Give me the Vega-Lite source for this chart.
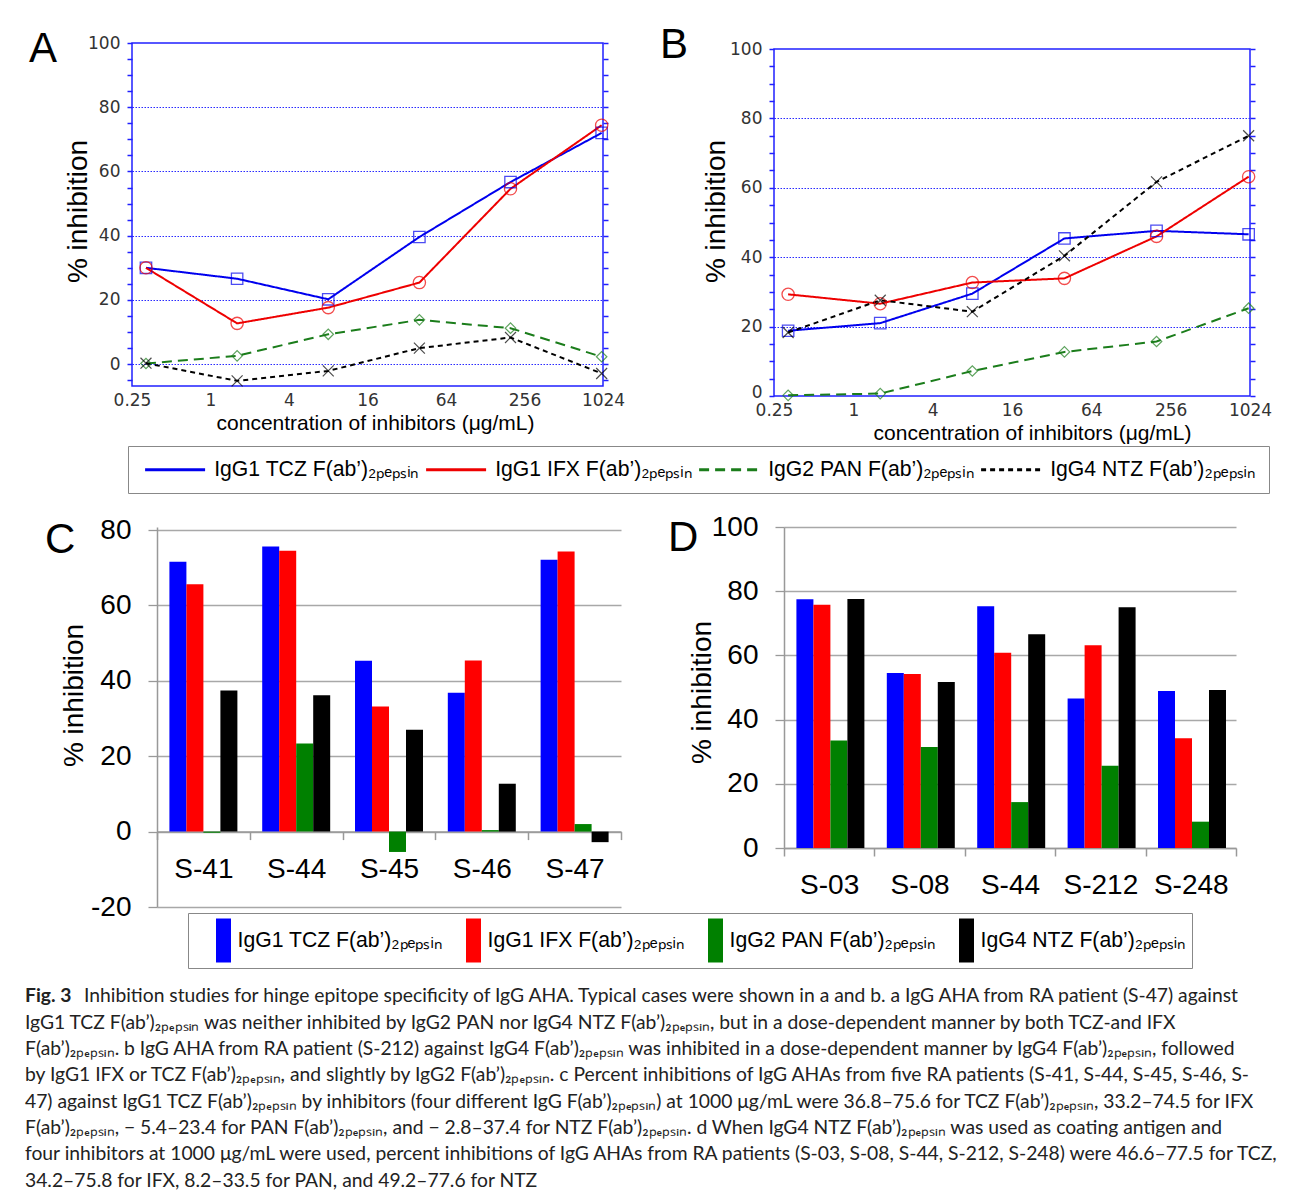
{
  "$schema": "https://vega.github.io/schema/vega-lite/v6.json",
  "padding": {"left": 0, "top": 23, "right": 0, "bottom": 0},
  "background": "white",
  "config": {
    "view": {"stroke": null},
    "font": "Liberation Sans",
    "axis": {"labelFont": "Liberation Sans", "titleFont": "Liberation Sans", "titleFontWeight": "normal", "titleColor": "black", "labelColor": "black"},
    "title": {"font": "Liberation Sans", "fontWeight": "normal", "fontSize": 42, "anchor": "start", "frame": "group", "offset": 0, "baseline": "alphabetic", "color": "black"}
  },
  "datasets": {
    "lineA": [
      {"series": "TCZ", "conc": 0.32, "pct": 30.0}, {"series": "TCZ", "conc": 1.6, "pct": 26.6}, {"series": "TCZ", "conc": 8, "pct": 20.2}, {"series": "TCZ", "conc": 40, "pct": 39.6}, {"series": "TCZ", "conc": 200, "pct": 56.7}, {"series": "TCZ", "conc": 1000, "pct": 72.0},
      {"series": "IFX", "conc": 0.32, "pct": 30.0}, {"series": "IFX", "conc": 1.6, "pct": 12.7}, {"series": "IFX", "conc": 8, "pct": 17.6}, {"series": "IFX", "conc": 40, "pct": 25.4}, {"series": "IFX", "conc": 200, "pct": 54.6}, {"series": "IFX", "conc": 1000, "pct": 74.4},
      {"series": "PAN", "conc": 0.32, "pct": 0.2}, {"series": "PAN", "conc": 1.6, "pct": 2.6}, {"series": "PAN", "conc": 8, "pct": 9.3}, {"series": "PAN", "conc": 40, "pct": 13.8}, {"series": "PAN", "conc": 200, "pct": 11.2}, {"series": "PAN", "conc": 1000, "pct": 2.3},
      {"series": "NTZ", "conc": 0.32, "pct": 0.3}, {"series": "NTZ", "conc": 1.6, "pct": -5.2}, {"series": "NTZ", "conc": 8, "pct": -2.1}, {"series": "NTZ", "conc": 40, "pct": 5.0}, {"series": "NTZ", "conc": 200, "pct": 8.3}, {"series": "NTZ", "conc": 1000, "pct": -2.9}
    ],
    "lineB": [
      {"series": "TCZ", "conc": 0.32, "pct": 18.8}, {"series": "TCZ", "conc": 1.6, "pct": 21.0}, {"series": "TCZ", "conc": 8, "pct": 29.5}, {"series": "TCZ", "conc": 40, "pct": 45.4}, {"series": "TCZ", "conc": 200, "pct": 47.6}, {"series": "TCZ", "conc": 1000, "pct": 46.6},
      {"series": "IFX", "conc": 0.32, "pct": 29.3}, {"series": "IFX", "conc": 1.6, "pct": 26.6}, {"series": "IFX", "conc": 8, "pct": 32.7}, {"series": "IFX", "conc": 40, "pct": 33.9}, {"series": "IFX", "conc": 200, "pct": 46.0}, {"series": "IFX", "conc": 1000, "pct": 63.2},
      {"series": "PAN", "conc": 0.32, "pct": 0.2}, {"series": "PAN", "conc": 1.6, "pct": 0.7}, {"series": "PAN", "conc": 8, "pct": 7.2}, {"series": "PAN", "conc": 40, "pct": 12.7}, {"series": "PAN", "conc": 200, "pct": 15.7}, {"series": "PAN", "conc": 1000, "pct": 25.3},
      {"series": "NTZ", "conc": 0.32, "pct": 18.3}, {"series": "NTZ", "conc": 1.6, "pct": 27.6}, {"series": "NTZ", "conc": 8, "pct": 24.3}, {"series": "NTZ", "conc": 40, "pct": 40.4}, {"series": "NTZ", "conc": 200, "pct": 61.7}, {"series": "NTZ", "conc": 1000, "pct": 75.0}
    ],
    "barC": [
      {"sample": "S-41", "inhibitor": "TCZ", "pct": 71.6}, {"sample": "S-41", "inhibitor": "IFX", "pct": 65.6}, {"sample": "S-41", "inhibitor": "PAN", "pct": -0.3}, {"sample": "S-41", "inhibitor": "NTZ", "pct": 37.4},
      {"sample": "S-44", "inhibitor": "TCZ", "pct": 75.6}, {"sample": "S-44", "inhibitor": "IFX", "pct": 74.5}, {"sample": "S-44", "inhibitor": "PAN", "pct": 23.4}, {"sample": "S-44", "inhibitor": "NTZ", "pct": 36.2},
      {"sample": "S-45", "inhibitor": "TCZ", "pct": 45.3}, {"sample": "S-45", "inhibitor": "IFX", "pct": 33.2}, {"sample": "S-45", "inhibitor": "PAN", "pct": -5.4}, {"sample": "S-45", "inhibitor": "NTZ", "pct": 27.0},
      {"sample": "S-46", "inhibitor": "TCZ", "pct": 36.8}, {"sample": "S-46", "inhibitor": "IFX", "pct": 45.4}, {"sample": "S-46", "inhibitor": "PAN", "pct": 0.4}, {"sample": "S-46", "inhibitor": "NTZ", "pct": 12.7},
      {"sample": "S-47", "inhibitor": "TCZ", "pct": 72.1}, {"sample": "S-47", "inhibitor": "IFX", "pct": 74.3}, {"sample": "S-47", "inhibitor": "PAN", "pct": 2.0}, {"sample": "S-47", "inhibitor": "NTZ", "pct": -2.8}
    ],
    "barD": [
      {"sample": "S-03", "inhibitor": "TCZ", "pct": 77.5}, {"sample": "S-03", "inhibitor": "IFX", "pct": 75.8}, {"sample": "S-03", "inhibitor": "PAN", "pct": 33.5}, {"sample": "S-03", "inhibitor": "NTZ", "pct": 77.6},
      {"sample": "S-08", "inhibitor": "TCZ", "pct": 54.5}, {"sample": "S-08", "inhibitor": "IFX", "pct": 54.2}, {"sample": "S-08", "inhibitor": "PAN", "pct": 31.5}, {"sample": "S-08", "inhibitor": "NTZ", "pct": 51.7},
      {"sample": "S-44", "inhibitor": "TCZ", "pct": 75.3}, {"sample": "S-44", "inhibitor": "IFX", "pct": 60.8}, {"sample": "S-44", "inhibitor": "PAN", "pct": 14.3}, {"sample": "S-44", "inhibitor": "NTZ", "pct": 66.6},
      {"sample": "S-212", "inhibitor": "TCZ", "pct": 46.6}, {"sample": "S-212", "inhibitor": "IFX", "pct": 63.2}, {"sample": "S-212", "inhibitor": "PAN", "pct": 25.6}, {"sample": "S-212", "inhibitor": "NTZ", "pct": 75.0},
      {"sample": "S-248", "inhibitor": "TCZ", "pct": 48.9}, {"sample": "S-248", "inhibitor": "IFX", "pct": 34.2}, {"sample": "S-248", "inhibitor": "PAN", "pct": 8.2}, {"sample": "S-248", "inhibitor": "NTZ", "pct": 49.2}
    ],
    "caption": [
      {"line": 1, "part": "bold", "text": "Fig. 3"},
      {"line": 1, "part": "rest", "text": "Inhibition studies for hinge epitope specificity of IgG AHA. Typical cases were shown in a and b. a IgG AHA from RA patient (S-47) against"},
      {"line": 2, "part": "body", "text": "IgG1 TCZ F(ab’)₂ₚₑₚₛᵢₙ was neither inhibited by IgG2 PAN nor IgG4 NTZ F(ab’)₂ₚₑₚₛᵢₙ, but in a dose-dependent manner by both TCZ-and IFX"},
      {"line": 3, "part": "body", "text": "F(ab’)₂ₚₑₚₛᵢₙ. b IgG AHA from RA patient (S-212) against IgG4 F(ab’)₂ₚₑₚₛᵢₙ was inhibited in a dose-dependent manner by IgG4 F(ab’)₂ₚₑₚₛᵢₙ, followed"},
      {"line": 4, "part": "body", "text": "by IgG1 IFX or TCZ F(ab’)₂ₚₑₚₛᵢₙ, and slightly by IgG2 F(ab’)₂ₚₑₚₛᵢₙ. c Percent inhibitions of IgG AHAs from five RA patients (S-41, S-44, S-45, S-46, S-"},
      {"line": 5, "part": "body", "text": "47) against IgG1 TCZ F(ab’)₂ₚₑₚₛᵢₙ by inhibitors (four different IgG F(ab’)₂ₚₑₚₛᵢₙ) at 1000 μg/mL were 36.8–75.6 for TCZ F(ab’)₂ₚₑₚₛᵢₙ, 33.2–74.5 for IFX"},
      {"line": 6, "part": "body", "text": "F(ab’)₂ₚₑₚₛᵢₙ, − 5.4–23.4 for PAN F(ab’)₂ₚₑₚₛᵢₙ, and − 2.8–37.4 for NTZ F(ab’)₂ₚₑₚₛᵢₙ. d When IgG4 NTZ F(ab’)₂ₚₑₚₛᵢₙ was used as coating antigen and"},
      {"line": 7, "part": "body", "text": "four inhibitors at 1000 μg/mL were used, percent inhibitions of IgG AHAs from RA patients (S-03, S-08, S-44, S-212, S-248) were 46.6–77.5 for TCZ,"},
      {"line": 8, "part": "body", "text": "34.2–75.8 for IFX, 8.2–33.5 for PAN, and 49.2–77.6 for NTZ"}
    ]
  },
  "resolve": {"scale": {"color": "independent", "strokeDash": "independent"}},
  "spacing": 18,
  "vconcat": [
    {
      "bounds": "flush",
      "spacing": 0,
      "resolve": {"scale": {"color": "independent", "strokeDash": "independent"}},
      "hconcat": [
        {"width": 132, "height": 1, "data": {"values": [{}]}, "mark": {"type": "point", "opacity": 0}},
        {
          "width": 471, "height": 343,
          "view": {"stroke": "#2020ff", "strokeWidth": 1.5},
          "title": {"text": "A", "dx": -103, "dy": 41},
          "data": {"name": "lineA"},
          "resolve": {"scale": {"y": "independent"}},
          "layer": [
            {
              "mark": {"type": "line", "strokeWidth": 2},
              "encoding": {
                "x": {"field": "conc", "type": "quantitative", "scale": {"type": "log", "base": 2, "domain": [0.25, 1024], "nice": false},
                      "axis": {"values": [0.25, 1, 4, 16, 64, 256, 1024], "format": "~g", "ticks": false, "domain": false, "grid": false, "labelFont": "DejaVu Sans", "labelFontSize": 17, "labelColor": "#333", "labelPadding": 6, "labelFlush": false, "labelOverlap": false, "title": "concentration of inhibitors (μg/mL)", "titleFontSize": 21, "titlePadding": 4, "titleX": 243}},
                "y": {"field": "pct", "type": "quantitative", "scale": {"domain": [-6.8, 100], "nice": false, "zero": false},
                      "axis": {"orient": "left", "values": [-5, 0, 5, 10, 15, 20, 25, 30, 35, 40, 45, 50, 55, 60, 65, 70, 75, 80, 85, 90, 95, 100], "labelExpr": "datum.value % 20 === 0 ? datum.label : ''", "domain": false, "tickSize": 5, "tickColor": "#2020ff", "tickWidth": 1.5, "grid": true, "gridColor": "#2a2aff", "gridDash": [1.5, 1.5], "gridWidth": 1, "gridOpacity": {"condition": {"test": "datum.value % 20 === 0 && datum.value < 100", "value": 1}, "value": 0}, "labelFont": "DejaVu Sans", "labelFontSize": 17, "labelColor": "#333", "labelPadding": 7, "title": "% inhibition", "titleFontSize": 28, "titleX": -54, "titleY": 168, "titleBaseline": "middle"}},
                "color": {"field": "series", "type": "nominal", "scale": {"domain": ["TCZ", "IFX", "PAN", "NTZ"], "range": ["#0000ee", "#ee0000", "#1b7d1b", "#000000"]},
                          "legend": {"orient": "none", "legendX": -4, "legendY": 403, "direction": "horizontal", "title": null, "symbolType": "M-1.3,0H10.7", "symbolSize": 100, "symbolStrokeWidth": 3, "labelOffset": 52, "labelFontSize": 21.2, "labelFont": "Liberation Sans", "labelColor": "black", "labelLimit": 500, "columnPadding": 0, "padding": 13, "strokeColor": "#888", "fillColor": "white", "labelExpr": "{'TCZ': 'IgG1 TCZ F(ab’)₂ₚₑₚₛᵢₙ', 'IFX': 'IgG1 IFX F(ab’)₂ₚₑₚₛᵢₙ', 'PAN': 'IgG2 PAN F(ab’)₂ₚₑₚₛᵢₙ', 'NTZ': 'IgG4 NTZ F(ab’)₂ₚₑₚₛᵢₙ'}[datum.value]"}},
                "strokeDash": {"field": "series", "type": "nominal", "scale": {"domain": ["TCZ", "IFX", "PAN", "NTZ"], "range": [[1, 0], [1, 0], [10, 6], [5, 4]]},
                          "legend": {"orient": "none", "legendX": -4, "legendY": 403, "direction": "horizontal", "title": null, "symbolType": "M-1.3,0H10.7", "symbolSize": 100, "symbolStrokeWidth": 3, "labelOffset": 52, "labelFontSize": 21.2, "labelFont": "Liberation Sans", "labelColor": "black", "labelLimit": 500, "columnPadding": 0, "padding": 13, "strokeColor": "#888", "fillColor": "white", "labelExpr": "{'TCZ': 'IgG1 TCZ F(ab’)₂ₚₑₚₛᵢₙ', 'IFX': 'IgG1 IFX F(ab’)₂ₚₑₚₛᵢₙ', 'PAN': 'IgG2 PAN F(ab’)₂ₚₑₚₛᵢₙ', 'NTZ': 'IgG4 NTZ F(ab’)₂ₚₑₚₛᵢₙ'}[datum.value]"}}
              }
            },
            {
              "transform": [{"filter": "datum.series === 'TCZ'"}],
              "mark": {"type": "point", "filled": false, "size": 130, "strokeWidth": 1.3, "shape": "square", "color": "#0000ee"},
              "encoding": {
                "x": {"field": "conc", "type": "quantitative"},
                "y": {"field": "pct", "type": "quantitative", "scale": {"domain": [-6.8, 100], "nice": false, "zero": false},
                      "axis": {"orient": "right", "values": [-5, 0, 5, 10, 15, 20, 25, 30, 35, 40, 45, 50, 55, 60, 65, 70, 75, 80, 85, 90, 95, 100], "labels": false, "domain": false, "tickSize": 5, "tickColor": "#2020ff", "tickWidth": 1.5, "grid": false, "title": null}}
              }
            },
            {
              "transform": [{"filter": "datum.series === 'IFX'"}],
              "mark": {"type": "point", "filled": false, "size": 150, "strokeWidth": 1.3, "shape": "circle", "color": "#ee0000"},
              "encoding": {
                "x": {"field": "conc", "type": "quantitative"},
                "y": {"field": "pct", "type": "quantitative", "scale": {"domain": [-6.8, 100], "nice": false, "zero": false}, "axis": null}
              }
            },
            {
              "transform": [{"filter": "datum.series === 'PAN'"}],
              "mark": {"type": "point", "filled": false, "size": 110, "strokeWidth": 1.2, "shape": "diamond", "color": "#1b7d1b"},
              "encoding": {
                "x": {"field": "conc", "type": "quantitative"},
                "y": {"field": "pct", "type": "quantitative", "scale": {"domain": [-6.8, 100], "nice": false, "zero": false}, "axis": null}
              }
            },
            {
              "transform": [{"filter": "datum.series === 'NTZ'"}],
              "mark": {"type": "point", "filled": false, "size": 120, "strokeWidth": 1.2, "shape": "M-1,-1L1,1M-1,1L1,-1", "color": "#000000"},
              "encoding": {
                "x": {"field": "conc", "type": "quantitative"},
                "y": {"field": "pct", "type": "quantitative", "scale": {"domain": [-6.8, 100], "nice": false, "zero": false}, "axis": null}
              }
            }
          ]
        },
        {"width": 171, "height": 1, "data": {"values": [{}]}, "mark": {"type": "point", "opacity": 0}},
        {
          "bounds": "flush",
          "spacing": 0,
          "resolve": {"scale": {"color": "independent", "strokeDash": "independent"}},
          "vconcat": [
            {"width": 1, "height": 6, "data": {"values": [{}]}, "mark": {"type": "point", "opacity": 0}},
            {
              "width": 476, "height": 347,
              "view": {"stroke": "#2020ff", "strokeWidth": 1.5},
              "title": {"text": "B", "dx": -114, "dy": 31},
              "data": {"name": "lineB"},
              "resolve": {"scale": {"y": "independent"}},
              "layer": [
                {
                  "mark": {"type": "line", "strokeWidth": 2},
                  "encoding": {
                    "x": {"field": "conc", "type": "quantitative", "scale": {"type": "log", "base": 2, "domain": [0.25, 1024], "nice": false},
                          "axis": {"values": [0.25, 1, 4, 16, 64, 256, 1024], "format": "~g", "ticks": false, "domain": false, "grid": false, "labelFont": "DejaVu Sans", "labelFontSize": 17, "labelColor": "#333", "labelPadding": 6, "labelFlush": false, "labelOverlap": false, "title": "concentration of inhibitors (μg/mL)", "titleFontSize": 21, "titlePadding": 4, "titleX": 258}},
                    "y": {"field": "pct", "type": "quantitative", "scale": {"domain": [0, 100], "nice": false},
                          "axis": {"orient": "left", "values": [0, 5, 10, 15, 20, 25, 30, 35, 40, 45, 50, 55, 60, 65, 70, 75, 80, 85, 90, 95, 100], "labelExpr": "datum.value % 20 === 0 ? datum.label : ''", "labelOffset": {"condition": {"test": "datum.value === 0", "value": -4}, "value": 0}, "domain": false, "tickSize": 5, "tickColor": "#2020ff", "tickWidth": 1.5, "grid": true, "gridColor": "#2a2aff", "gridDash": [1.5, 1.5], "gridWidth": 1, "gridOpacity": {"condition": {"test": "datum.value % 20 === 0 && datum.value > 0 && datum.value < 100", "value": 1}, "value": 0}, "labelFont": "DejaVu Sans", "labelFontSize": 17, "labelColor": "#333", "labelPadding": 7, "title": "% inhibition", "titleFontSize": 28, "titleX": -58, "titleY": 162, "titleBaseline": "middle"}},
                    "color": {"field": "series", "type": "nominal", "scale": {"domain": ["TCZ", "IFX", "PAN", "NTZ"], "range": ["#0000ee", "#ee0000", "#1b7d1b", "#000000"]}, "legend": null},
                    "strokeDash": {"field": "series", "type": "nominal", "scale": {"domain": ["TCZ", "IFX", "PAN", "NTZ"], "range": [[1, 0], [1, 0], [10, 6], [5, 4]]}, "legend": null}
                  }
                },
                {
                  "transform": [{"filter": "datum.series === 'TCZ'"}],
                  "mark": {"type": "point", "filled": false, "size": 130, "strokeWidth": 1.3, "shape": "square", "color": "#0000ee"},
                  "encoding": {
                    "x": {"field": "conc", "type": "quantitative"},
                    "y": {"field": "pct", "type": "quantitative", "scale": {"domain": [0, 100], "nice": false},
                          "axis": {"orient": "right", "values": [0, 5, 10, 15, 20, 25, 30, 35, 40, 45, 50, 55, 60, 65, 70, 75, 80, 85, 90, 95, 100], "labels": false, "domain": false, "tickSize": 5, "tickColor": "#2020ff", "tickWidth": 1.5, "grid": false, "title": null}}
                  }
                },
                {
                  "transform": [{"filter": "datum.series === 'IFX'"}],
                  "mark": {"type": "point", "filled": false, "size": 150, "strokeWidth": 1.3, "shape": "circle", "color": "#ee0000"},
                  "encoding": {
                    "x": {"field": "conc", "type": "quantitative"},
                    "y": {"field": "pct", "type": "quantitative", "scale": {"domain": [0, 100], "nice": false}, "axis": null}
                  }
                },
                {
                  "transform": [{"filter": "datum.series === 'PAN'"}],
                  "mark": {"type": "point", "filled": false, "size": 110, "strokeWidth": 1.2, "shape": "diamond", "color": "#1b7d1b"},
                  "encoding": {
                    "x": {"field": "conc", "type": "quantitative"},
                    "y": {"field": "pct", "type": "quantitative", "scale": {"domain": [0, 100], "nice": false}, "axis": null}
                  }
                },
                {
                  "transform": [{"filter": "datum.series === 'NTZ'"}],
                  "mark": {"type": "point", "filled": false, "size": 120, "strokeWidth": 1.2, "shape": "M-1,-1L1,1M-1,1L1,-1", "color": "#000000"},
                  "encoding": {
                    "x": {"field": "conc", "type": "quantitative"},
                    "y": {"field": "pct", "type": "quantitative", "scale": {"domain": [0, 100], "nice": false}, "axis": null}
                  }
                }
              ]
            }
          ]
        }
      ]
    },
    {
      "bounds": "flush",
      "spacing": 0,
      "resolve": {"scale": {"color": "independent"}},
      "hconcat": [
        {"width": 157, "height": 1, "data": {"values": [{}]}, "mark": {"type": "point", "opacity": 0}},
        {
          "width": 464, "height": 380,
          "title": {"text": "C", "dx": -112, "dy": 50},
          "data": {"name": "barC"},
          "mark": {"type": "bar"},
          "encoding": {
            "x": {"field": "sample", "type": "nominal", "sort": null, "scale": {"paddingInner": 0, "paddingOuter": 0},
                  "axis": {"title": null, "orient": "bottom", "offset": -75.4, "tickBand": "extent", "tickSize": 8, "tickColor": "#999", "tickWidth": 1.5, "domainColor": "#999", "domainWidth": 1.5, "labelAngle": 0, "labelFontSize": 28, "labelPadding": 16, "labelColor": "black"}},
            "xOffset": {"field": "inhibitor", "type": "nominal", "sort": null, "scale": {"domain": ["TCZ", "IFX", "PAN", "NTZ"], "paddingInner": 0, "paddingOuter": 0.73}},
            "y": {"field": "pct", "type": "quantitative", "scale": {"domain": [-20, 80.8], "nice": false, "zero": false},
                  "axis": {"values": [-20, 0, 20, 40, 60, 80], "labelExpr": "datum.value < 0 ? '-' + (-datum.value) : datum.label", "grid": true, "gridColor": "#a8a8a8", "gridWidth": 1.3, "domainColor": "#999", "domainWidth": 1.5, "tickColor": "#999", "tickSize": 9, "tickWidth": 1.3, "labelFontSize": 28, "labelPadding": 17, "labelColor": "black", "title": "% inhibition", "titleFontSize": 28, "titleX": -83, "titleY": 168, "titleBaseline": "middle"}},
            "color": {"field": "inhibitor", "type": "nominal", "scale": {"domain": ["TCZ", "IFX", "PAN", "NTZ"], "range": ["#0000ff", "#ff0000", "#008000", "#000000"]},
                      "legend": {"orient": "none", "legendX": 31, "legendY": 386, "direction": "horizontal", "title": null, "symbolType": "M0.023,-1H0.705V1H0.023Z", "symbolSize": 1936, "symbolStrokeWidth": 0, "labelOffset": 0, "labelFontSize": 21.2, "labelFont": "Liberation Sans", "labelColor": "black", "labelLimit": 500, "columnPadding": 0, "padding": 5.5, "strokeColor": "#888", "fillColor": "white", "labelExpr": "{'TCZ': 'IgG1 TCZ F(ab’)₂ₚₑₚₛᵢₙ', 'IFX': 'IgG1 IFX F(ab’)₂ₚₑₚₛᵢₙ', 'PAN': 'IgG2 PAN F(ab’)₂ₚₑₚₛᵢₙ', 'NTZ': 'IgG4 NTZ F(ab’)₂ₚₑₚₛᵢₙ'}[datum.value]"}}
          }
        },
        {"width": 163, "height": 1, "data": {"values": [{}]}, "mark": {"type": "point", "opacity": 0}},
        {
          "width": 452, "height": 321,
          "title": {"text": "D", "dx": -116, "dy": 51},
          "data": {"name": "barD"},
          "mark": {"type": "bar"},
          "encoding": {
            "x": {"field": "sample", "type": "nominal", "sort": null, "scale": {"paddingInner": 0, "paddingOuter": 0},
                  "axis": {"title": null, "orient": "bottom", "tickBand": "extent", "tickSize": 8, "tickColor": "#999", "tickWidth": 1.5, "domainColor": "#999", "domainWidth": 1.5, "labelAngle": 0, "labelFontSize": 28, "labelPadding": 15, "labelColor": "black"}},
            "xOffset": {"field": "inhibitor", "type": "nominal", "sort": null, "scale": {"domain": ["TCZ", "IFX", "PAN", "NTZ"], "paddingInner": 0, "paddingOuter": 0.73}},
            "y": {"field": "pct", "type": "quantitative", "scale": {"domain": [0, 100], "nice": false},
                  "axis": {"values": [0, 20, 40, 60, 80, 100], "grid": true, "gridColor": "#a8a8a8", "gridWidth": 1.3, "domainColor": "#999", "domainWidth": 1.5, "tickColor": "#999", "tickSize": 9, "tickWidth": 1.3, "labelFontSize": 28, "labelPadding": 17, "labelColor": "black", "title": "% inhibition", "titleFontSize": 28, "titleX": -82, "titleY": 165, "titleBaseline": "middle"}},
            "color": {"field": "inhibitor", "type": "nominal", "scale": {"domain": ["TCZ", "IFX", "PAN", "NTZ"], "range": ["#0000ff", "#ff0000", "#008000", "#000000"]}, "legend": null}
          }
        }
      ]
    },
    {
      "width": 1293, "height": 197,
      "data": {"name": "caption"},
      "encoding": {
        "y": {"field": "line", "type": "ordinal", "axis": null, "scale": {"type": "point", "padding": 0.24}},
        "text": {"field": "text"}
      },
      "layer": [
        {"transform": [{"filter": "datum.part === 'bold'"}], "mark": {"type": "text", "align": "left", "baseline": "middle", "font": "Lato", "fontSize": 19.3, "fontWeight": "bold", "color": "#222", "x": 25}},
        {"transform": [{"filter": "datum.part === 'rest'"}], "mark": {"type": "text", "align": "left", "baseline": "middle", "font": "Lato", "fontSize": 19.3, "color": "#222", "x": 84}},
        {"transform": [{"filter": "datum.part === 'body'"}], "mark": {"type": "text", "align": "left", "baseline": "middle", "font": "Lato", "fontSize": 19.3, "color": "#222", "x": 25}}
      ]
    }
  ]
}
